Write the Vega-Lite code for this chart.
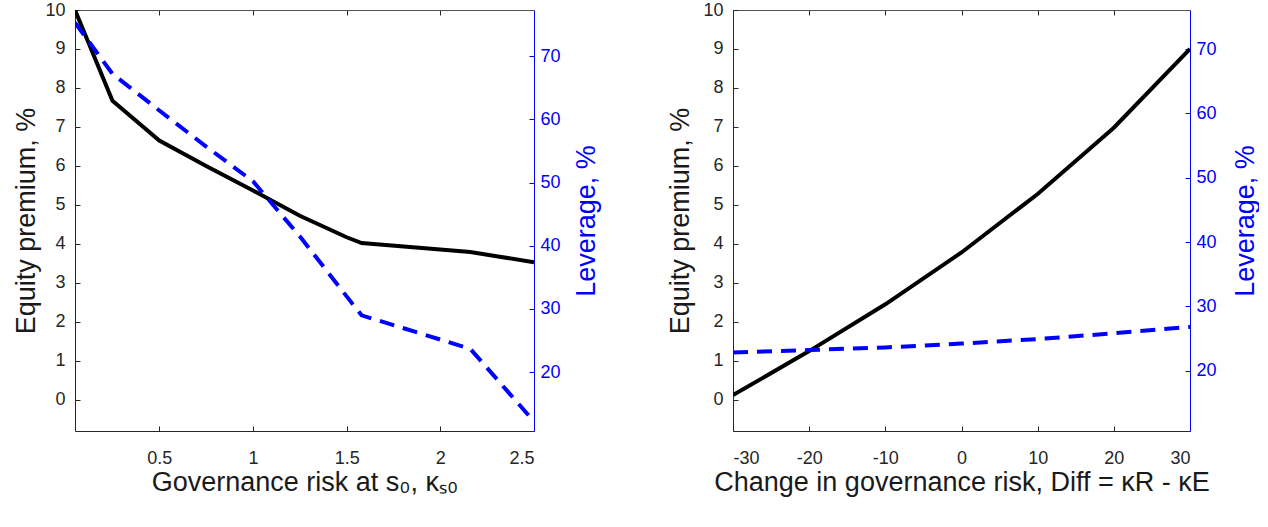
{
  "$schema": "https://vega.github.io/schema/vega-lite/v6.json",
  "padding": {"left": 12, "top": 1, "right": 0, "bottom": 40},
  "background": "white",
  "config": {
    "view": {"stroke": null},
    "font": "Liberation Sans",
    "axis": {
      "grid": false,
      "labelFont": "Liberation Sans",
      "titleFont": "Liberation Sans",
      "labelFontSize": 18,
      "titleFontSize": 27,
      "titleFontWeight": "normal",
      "labelColor": "#262626",
      "titleColor": "#1a1a1a",
      "domainColor": "#262626",
      "tickColor": "#262626",
      "domainWidth": 1,
      "tickWidth": 1,
      "tickSize": -5,
      "labelExpr": "'' + datum.value"
    }
  },
  "datasets": {
    "left": [
      {"x": 0.05, "ep": 10.0, "lev": 75.3},
      {"x": 0.25, "ep": 7.67, "lev": 67.2},
      {"x": 0.5, "ep": 6.65, "lev": 61.4},
      {"x": 0.75, "ep": 6.0, "lev": 55.7},
      {"x": 1.0, "ep": 5.37, "lev": 50.2},
      {"x": 1.25, "ep": 4.72, "lev": 41.5},
      {"x": 1.5, "ep": 4.17, "lev": 32.0},
      {"x": 1.58, "ep": 4.02, "lev": 29.0},
      {"x": 2.16, "ep": 3.79, "lev": 23.7},
      {"x": 2.5, "ep": 3.53, "lev": 12.2}
    ],
    "right": [
      {"x": -30, "ep": 0.12, "lev": 22.8},
      {"x": -20, "ep": 1.25, "lev": 23.2},
      {"x": -10, "ep": 2.45, "lev": 23.6},
      {"x": 0, "ep": 3.78, "lev": 24.2},
      {"x": 10, "ep": 5.28, "lev": 24.9},
      {"x": 20, "ep": 6.98, "lev": 25.8},
      {"x": 30, "ep": 9.0, "lev": 26.8}
    ]
  },
  "spacing": 66,
  "hconcat": [
    {
      "width": 459,
      "height": 421,
      "data": {"name": "left"},
      "layer": [
        {
          "mark": {"type": "line", "color": "#000000", "strokeWidth": 4, "clip": true},
          "encoding": {
            "x": {"field": "x", "type": "quantitative",
              "scale": {"domain": [0.05, 2.5], "nice": false, "zero": false},
              "axis": {"orient": "bottom", "values": [0.5, 1, 1.5, 2, 2.5], "labelPadding": 23, "titlePadding": 2, "title": "Governance risk at s₀, κₛ₀"}},
            "y": {"field": "ep", "type": "quantitative",
              "scale": {"domain": [-0.8, 10], "nice": false, "zero": false},
              "axis": {"orient": "left", "values": [0, 1, 2, 3, 4, 5, 6, 7, 8, 9, 10], "labelPadding": 15, "titlePadding": 4, "title": "Equity premium, %"}}
          }
        },
        {
          "mark": {"type": "line", "color": "#0000FF", "strokeWidth": 4, "strokeDash": [15, 9], "clip": true},
          "encoding": {
            "x": {"field": "x", "type": "quantitative",
              "scale": {"domain": [0.05, 2.5], "nice": false, "zero": false},
              "axis": {"orient": "top", "values": [0.5, 1, 1.5, 2, 2.5], "labels": false, "title": null, "domainColor": "#555555"}},
            "y": {"field": "lev", "type": "quantitative",
              "scale": {"domain": [10.7, 77.3], "nice": false, "zero": false},
              "axis": {"orient": "right", "values": [20, 30, 40, 50, 60, 70], "labelPadding": 11, "titlePadding": 13, "title": "Leverage, %", "titleAngle": 270, "titleBaseline": "top",
                "labelColor": "#0000FF", "titleColor": "#0000FF", "domainColor": "#0000FF", "tickColor": "#0000FF"}}
          }
        }
      ],
      "resolve": {"scale": {"y": "independent"}, "axis": {"x": "independent", "y": "independent"}}
    },
    {
      "width": 457,
      "height": 421,
      "data": {"name": "right"},
      "layer": [
        {
          "mark": {"type": "line", "color": "#000000", "strokeWidth": 4, "clip": true},
          "encoding": {
            "x": {"field": "x", "type": "quantitative",
              "scale": {"domain": [-30, 30], "nice": false, "zero": false},
              "axis": {"orient": "bottom", "values": [-30, -20, -10, 0, 10, 20, 30], "labelPadding": 23, "titlePadding": 2, "title": "Change in governance risk, Diff = κR - κE"}},
            "y": {"field": "ep", "type": "quantitative",
              "scale": {"domain": [-0.8, 10], "nice": false, "zero": false},
              "axis": {"orient": "left", "values": [0, 1, 2, 3, 4, 5, 6, 7, 8, 9, 10], "labelPadding": 15, "titlePadding": 8, "title": "Equity premium, %"}}
          }
        },
        {
          "mark": {"type": "line", "color": "#0000FF", "strokeWidth": 4, "strokeDash": [15, 9], "clip": true},
          "encoding": {
            "x": {"field": "x", "type": "quantitative",
              "scale": {"domain": [-30, 30], "nice": false, "zero": false},
              "axis": {"orient": "top", "values": [-30, -20, -10, 0, 10, 20, 30], "labels": false, "title": null, "domainColor": "#555555"}},
            "y": {"field": "lev", "type": "quantitative",
              "scale": {"domain": [10.6, 76.1], "nice": false, "zero": false},
              "axis": {"orient": "right", "values": [20, 30, 40, 50, 60, 70], "labelPadding": 11, "titlePadding": 16, "title": "Leverage, %", "titleAngle": 270, "titleBaseline": "top",
                "labelColor": "#0000FF", "titleColor": "#0000FF", "domainColor": "#0000FF", "tickColor": "#0000FF"}}
          }
        }
      ],
      "resolve": {"scale": {"y": "independent"}, "axis": {"x": "independent", "y": "independent"}}
    }
  ]
}
